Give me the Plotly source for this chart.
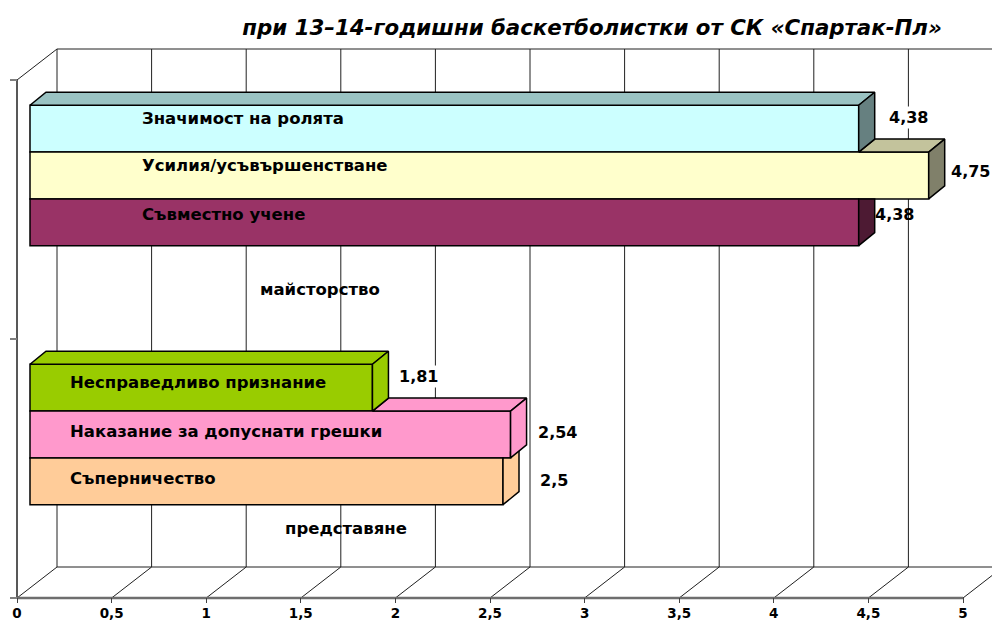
import plotly.graph_objects as go

# ---------------- data ----------------
categories = ["представяне", "майсторство"]
group1_names = ["Несправедливо признание", "Наказание за допуснати грешки", "Съперничество"]
group1_values = [1.81, 2.54, 2.5]
group1_labels = ["1,81", "2,54", "2,5"]
group2_names = ["Значимост на ролята", "Усилия/усъвършенстване", "Съвместно учене"]
group2_values = [4.38, 4.75, 4.38]
group2_labels = ["4,38", "4,75", "4,38"]
x_tick_vals = [0, 0.5, 1, 1.5, 2, 2.5, 3, 3.5, 4, 4.5, 5]
x_tick_text = ["0", "0,5", "1", "1,5", "2", "2,5", "3", "3,5", "4", "4,5", "5"]
title_text = "при 13–14-годишни баскетболистки от СК «Спартак-Пл»"

groups_names = [group1_names, group2_names]
groups_values = [group1_values, group2_values]
groups_labels = [group1_labels, group2_labels]

# ---------------- style ----------------
front_colors = [["#99CC00", "#FF99CC", "#FFCC99"], ["#CCFFFF", "#FFFFCC", "#993366"]]
top_colors = [["#99CC00", "#FF99CC", "#FFCC99"], ["#9AC3C3", "#C3C39C", "#73264D"]]
side_colors = [["#99CC00", "#FF99CC", "#FFCC99"], ["#668080", "#80806A", "#4D1A33"]]
FONT = "DejaVu Sans"

W, H = 992, 626
ML, MR, MT, MB = 10, 0, 0, 23
ORIGIN_X, ORIGIN_Y = 17, 598          # pixel of value 0 / floor on front plane
PXX = (963 - 17) / 5.0                 # pixels per x unit
PXY = 259.0                            # pixels per category

x_min = -(ORIGIN_X - ML) / PXX
x_max = x_min + (W - ML - MR) / PXX
y_min = -((H - MB) - ORIGIN_Y) / PXY
y_max = y_min + (H - MT - MB) / PXY

WALL_DX, WALL_DY = 40 / PXX, 31 / PXY
BAR_BASE = 13 / PXX
BAR_DX, BAR_DY = 16 / PXX, 13 / PXY
BAR_STEP = 46.8 / PXY
GROUP_SHIFT = 0.1313

name_xshift = [38, 110]
name_yshift = [[5, 3, 3], [10, 10, 8]]
label_xshift = [[25, 25, 35], [28, 20, 14]]
label_yshift = [[11, 2, 1], [11, 4, 8]]
label_bg = [["white", "white", "white"], ["white", "white", "rgba(0,0,0,0)"]]
cat_label_xpx = [346, 320]
cat_label_dy = [-59.5, -79.5]

fig = go.Figure()
shapes = []
LINE = dict(color="#202020", width=1)

# back wall / floor / side wall
for t in x_tick_vals:
    shapes.append(dict(type="line", x0=t + WALL_DX, y0=WALL_DY, x1=t + WALL_DX, y1=2 + WALL_DY, line=LINE, layer="below"))
    shapes.append(dict(type="line", x0=t, y0=0, x1=t + WALL_DX, y1=WALL_DY, line=LINE, layer="below"))
shapes.append(dict(type="line", x0=WALL_DX, y0=2 + WALL_DY, x1=5 + WALL_DX, y1=2 + WALL_DY, line=LINE, layer="below"))
shapes.append(dict(type="line", x0=WALL_DX, y0=WALL_DY, x1=5 + WALL_DX, y1=WALL_DY, line=LINE, layer="below"))
shapes.append(dict(type="line", x0=0, y0=2, x1=WALL_DX, y1=2 + WALL_DY, line=LINE, layer="below"))
shapes.append(dict(type="line", x0=0, y0=0, x1=0, y1=2, line=dict(color="#202020", width=1.5), layer="below"))
shapes.append(dict(type="line", x0=0, y0=0, x1=5, y1=0, line=dict(color="#6e6e6e", width=2.5), layer="below"))

annotations = []
faces = []
for k, (names, vals, labs) in enumerate(zip(groups_names, groups_values, groups_labels)):
    ycs = [k + 0.5 + GROUP_SHIFT + (1 - j) * BAR_STEP for j in range(3)]
    for j in range(3):
        fig.add_trace(go.Bar(
            y=[ycs[j]], x=[vals[j]], base=[BAR_BASE], orientation="h", width=BAR_STEP,
            marker=dict(color=front_colors[k][j], line=dict(color="black", width=1.5)),
            name=names[j], showlegend=False, hoverinfo="skip"))
        annotations.append(dict(x=BAR_BASE, y=ycs[j], text=names[j], showarrow=False,
                                xanchor="left", xshift=name_xshift[k], yshift=name_yshift[k][j],
                                font=dict(family=FONT, size=16.5, color="black", weight="bold")))
        annotations.append(dict(x=BAR_BASE + vals[j], y=ycs[j], text=labs[j], showarrow=False,
                                xanchor="left", xshift=label_xshift[k][j], yshift=label_yshift[k][j],
                                bgcolor=label_bg[k][j], borderpad=1,
                                font=dict(family=FONT, size=16, color="black", weight="bold")))
    # 3D faces, drawn from the bottom bar upwards
    for j in (2, 1, 0):
        v = vals[j]
        yt, yb = ycs[j] + BAR_STEP / 2, ycs[j] - BAR_STEP / 2
        xe = BAR_BASE + v
        # top face
        if j == 0 or v > vals[j - 1]:
            xa = BAR_BASE if j == 0 else BAR_BASE + vals[j - 1]
            px = [xa, xe, xe + BAR_DX, xa + BAR_DX, xa]
            py = [yt, yt, yt + BAR_DY, yt + BAR_DY, yt]
            faces.append((px, py, top_colors[k][j]))
        # side face
        if j > 0 and vals[j - 1] > v:
            xa = BAR_BASE + vals[j - 1]
            if xa >= xe + BAR_DX:
                px = [xe, xe + BAR_DX, xe + BAR_DX, xe, xe]
                py = [yb, yb + BAR_DY, yt, yt, yb]
            else:
                f = (xa - xe) / BAR_DX
                px = [xe, xe + BAR_DX, xe + BAR_DX, xa, xa, xe, xe]
                py = [yb, yb + BAR_DY, yt + BAR_DY, yt + f * BAR_DY, yt, yt, yb]
        else:
            px = [xe, xe + BAR_DX, xe + BAR_DX, xe, xe]
            py = [yb, yb + BAR_DY, yt + BAR_DY, yt, yb]
        faces.append((px, py, side_colors[k][j]))
    annotations.append(dict(x=(cat_label_xpx[k] - ORIGIN_X) / PXX, y=k + 0.5, text=categories[k],
                            showarrow=False, xanchor="center", yshift=cat_label_dy[k],
                            font=dict(family=FONT, size=16.5, color="black", weight="bold")))

for px, py, col in faces:
    fig.add_trace(go.Scatter(x=px, y=py, mode="lines", fill="toself", fillcolor=col,
                             line=dict(color="black", width=1.5), showlegend=False, hoverinfo="skip"))

fig.update_layout(
    width=W, height=H, margin=dict(l=ML, r=MR, t=MT, b=MB),
    paper_bgcolor="white", plot_bgcolor="white", barmode="overlay", showlegend=False,
    title=dict(text=title_text, x=588 / W, y=1 - 28 / H, xanchor="center", yanchor="middle",
               xref="paper", yref="container",
               font=dict(family=FONT, size=21.3, color="black", weight="bold", style="italic")),
    xaxis=dict(range=[x_min, x_max], tickvals=x_tick_vals, ticktext=x_tick_text,
               ticks="inside", ticklen=5, tickcolor="#404040", tickwidth=1,
               showgrid=False, zeroline=False, showline=False, fixedrange=True,
               tickfont=dict(family=FONT, size=13.5, color="black", weight="bold")),
    yaxis=dict(range=[y_min, y_max], tickvals=[0, 1, 2], ticks="inside", ticklen=7,
               tickcolor="#808080", tickwidth=1.5, showticklabels=False,
               showgrid=False, zeroline=False, showline=False, fixedrange=True),
    shapes=shapes, annotations=annotations,
)

fig.write_html("out.html", config={"displayModeBar": False},
               post_script="document.body.style.margin='0px';")
